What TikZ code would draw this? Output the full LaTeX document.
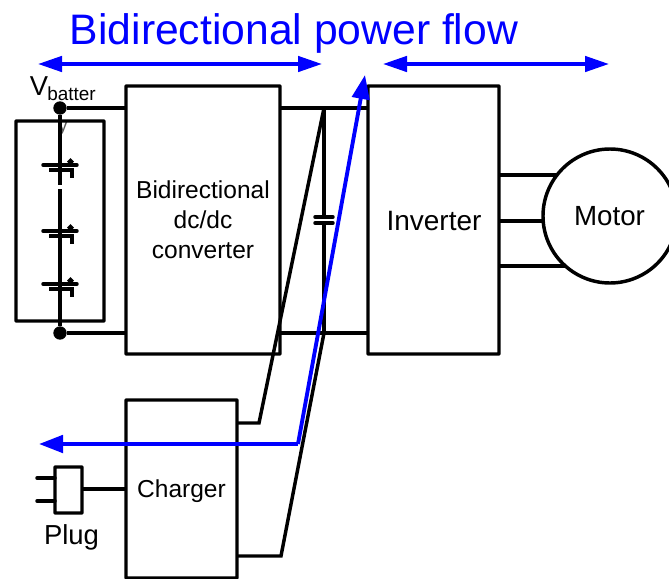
\documentclass[tikz,border=0pt]{standalone}
\usepackage{fontspec}
\setmainfont{Liberation Sans}
\usetikzlibrary{arrows.meta,calc}
\begin{document}
\begin{tikzpicture}[x=0.75pt,y=-0.75pt,
  wire/.style={line width=2.6pt,black,line join=miter},
  blockbox/.style={draw=black,line width=2.6pt,fill=none,inner sep=0pt,outer sep=0pt,rounded corners=0.5pt,anchor=north west},
  dotnode/.style={circle,fill=black,inner sep=0pt,outer sep=0pt,minimum size=10pt},
  flow/.style={line width=2.9pt,blue,line join=miter,-{Triangle[length=18pt,width=13pt]}},
  biflow/.style={line width=2.7pt,blue,{Triangle[length=18pt,width=11.5pt]}-{Triangle[length=18pt,width=11.5pt]}},
  lab/.style={inner sep=0pt,text=black,font=\fontsize{18.4pt}{22pt}\selectfont,align=center}]
\useasboundingbox (0,0) rectangle (669,579);

% clipped second line of the label, behind the pack
\node[inner sep=0pt,text=black!65,font=\fontsize{14pt}{14pt}\selectfont] (ylab) at (63,129) {y};

% blocks
\node[blockbox,minimum width=115.5pt,minimum height=201pt] (conv) at (126,86) {};
\node[lab] (convt) at (203,220) {Bidirectional\\[0.6pt]dc/dc\\[0.6pt]converter};
\node[blockbox,minimum width=98.25pt,minimum height=201pt] (inv) at (368,86) {};
\node[lab,font=\fontsize{21pt}{25pt}\selectfont] (invt) at (434,221) {Inverter};
\node[blockbox,minimum width=83.25pt,minimum height=133.5pt] (chg) at (126,400) {};
\node[lab] (chgt) at (181.5,491) {Charger};
\node[blockbox,minimum width=66pt,minimum height=150pt] (pack) at (16,121) {};
\node[blockbox,minimum width=20.25pt,minimum height=34.5pt] (plug) at (55,467) {};
\node[lab,font=\fontsize{20.6pt}{25pt}\selectfont] (plugt) at (71.5,537) {Plug};
\node[circle,draw=black,line width=2.6pt,inner sep=0pt,outer sep=0pt,minimum size=100.5pt] (motor) at (610,216) {};
\node[lab,font=\fontsize{20.8pt}{25pt}\selectfont] (mott) at (609.5,216) {Motor};

% battery terminals
\node[dotnode] (dt) at (60,108) {};
\node[dotnode] (db) at (60,333) {};
\coordinate (gapa) at (60,185);
\coordinate (gapb) at (60,189);
\draw[wire] (dt) -- (gapa);
\draw[wire] (gapb) -- (db);
\draw[wire] (dt) -- (dt -| conv.west);
\draw[wire] (db) -- (db -| conv.west);

% cells
\foreach \n/\yy in {a/165,b/231,c/284}{
  \coordinate (cell\n) at (60,\yy);
  \draw[wire,line cap=round] ($(cell\n)+(-17,0)$) -- ($(cell\n)+(17,0)$);
  \draw[wire] ($(cell\n)+(-11,5)$) -- ($(cell\n)+(12,5)$) -- ($(cell\n)+(12,13)$);
  \fill[black] ($(cell\n)+(10.5,-7)$) -- ($(cell\n)+(14,-3.5)$) -- ($(cell\n)+(10.5,0)$) -- ($(cell\n)+(7,-3.5)$) -- cycle;
}

% dc link
\coordinate (lt) at (324,108);
\coordinate (lb) at (324,333);
\draw[wire] (lt -| conv.east) -- (lt -| inv.west);
\draw[wire] (lb -| conv.east) -- (lb -| inv.west);
\coordinate (capa) at (324,217);
\coordinate (capb) at (324,223);
\draw[wire] (lt) -- (capa);
\draw[wire] (capb) -- (lb);
\draw[wire,line cap=round] ($(capa)+(-9,0)$) -- ($(capa)+(9,0)$);
\draw[wire,line cap=round] ($(capb)+(-9,0)$) -- ($(capb)+(9,0)$);

% charger wires
\coordinate (k1) at (259,423);
\coordinate (k2) at (281,556);
\draw[wire] (k1 -| chg.east) -- (k1) -- (lt);
\draw[wire] (k2 -| chg.east) -- (k2) -- (lb);

% plug
\coordinate (pa) at (37,478);
\coordinate (pb) at (37,501);
\draw[wire,line cap=round] (pa) -- (pa -| plug.west);
\draw[wire,line cap=round] (pb) -- (pb -| plug.west);
\coordinate (pc) at (100,489);
\draw[wire] (pc -| plug.east) -- (pc -| chg.west);

% motor leads
\path (motor.center) ++(-53,-41) coordinate (ma);
\path (motor.center) ++(-66,5) coordinate (mb);
\path (motor.center) ++(-45,50) coordinate (mc);
\draw[wire] (ma -| inv.east) -- (ma);
\draw[wire] (mb -| inv.east) -- (mb);
\draw[wire] (mc -| inv.east) -- (mc);

% blue flow
\coordinate (fk) at (298,444);
\coordinate (ftip) at (365,75);
\coordinate (fend) at (39,444);
\draw[flow] (fk) -- (ftip);
\draw[flow] (fk) -- (fend);
\coordinate (a1) at (38,64);
\coordinate (a2) at (322,64);
\coordinate (a3) at (383,64);
\coordinate (a4) at (609,64);
\draw[biflow] (a1) -- (a2);
\draw[biflow] (a3) -- (a4);

% labels
\node[inner sep=0pt,text=blue,font=\fontsize{32pt}{36pt}\selectfont] (title) at (294,33) {Bidirectional power flow};
\node[inner sep=0pt,anchor=base west,font=\fontsize{20.5pt}{24pt}\selectfont] (vb) at (29.5,95) {V};
\node[inner sep=0pt,anchor=base west,font=\fontsize{14.2pt}{16pt}\selectfont] (vbs) at (47,100) {batter};
\end{tikzpicture}
\end{document}
